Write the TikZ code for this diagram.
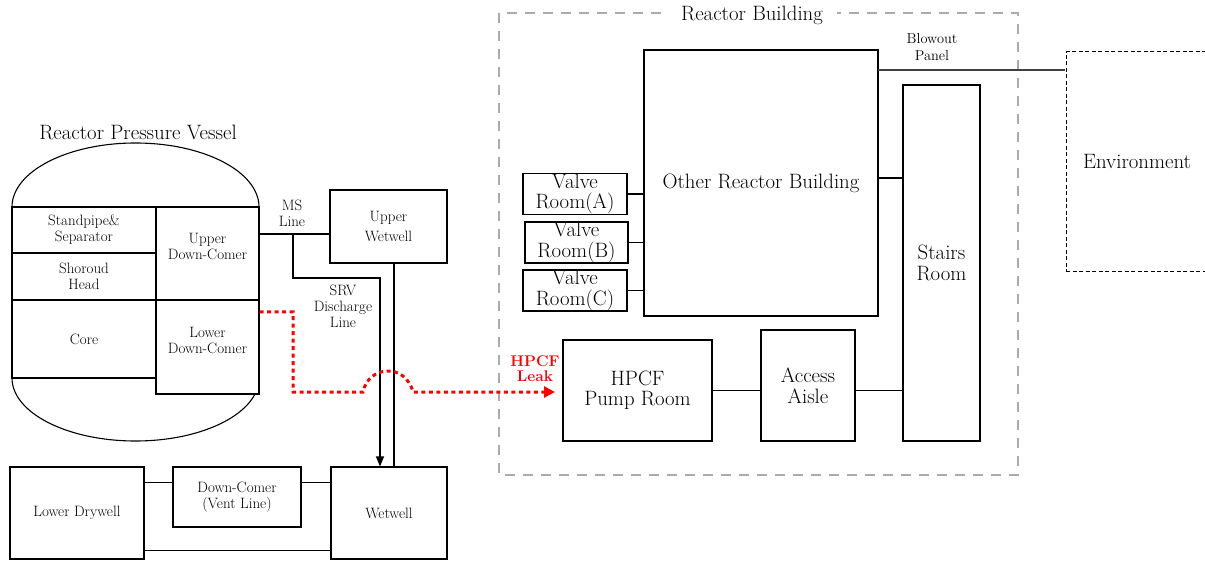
\documentclass[tikz,border=0pt]{standalone}
\usetikzlibrary{arrows.meta}
\newcommand\fbig{\fontsize{20.8}{20.5}\selectfont}
\newcommand\fsmall{\fontsize{15}{16}\selectfont}
\newcommand\fleak{\fontsize{15.5}{15}\selectfont\bfseries}
\tikzset{
  box/.style={draw, line width=1.1pt, fill=white, inner sep=0pt, align=center},
  bigbox/.style={box, font=\fbig},
  smallbox/.style={box, font=\fsmall},
  conn/.style={line width=1.1pt},
  lbl/.style={inner sep=0pt, align=center},
  rbline/.style={draw=black!33, line width=2.5pt, dash pattern=on 10pt off 8pt},
  envline/.style={draw, line width=1pt, dash pattern=on 4pt off 2.5pt},
  leak/.style={draw=red, line width=3pt, dash pattern=on 4pt off 3.5pt},
}
\begin{document}
\begin{tikzpicture}[x=1pt,y=-1pt]
\useasboundingbox (0,0) rectangle (1205,561);

% ---------- Reactor pressure vessel ----------
\begin{scope}
  \clip (0,0) rectangle (300,207);
  \draw[line width=1.1pt] (135.5,207) ellipse [x radius=123.5pt, y radius=64pt];
\end{scope}
\begin{scope}
  \clip (0,378) rectangle (300,470);
  \draw[line width=1.1pt] (135.5,378) ellipse [x radius=123.5pt, y radius=63pt];
\end{scope}
\node[lbl, font=\fbig] (rpv) at (138,132) {Reactor Pressure Vessel};

\node[smallbox, minimum width=144pt, minimum height=46pt] (sep) at (84,230) {Standpipe\&\\Separator};
\node[smallbox, minimum width=144pt, minimum height=47pt] (shr) at (84,276.5) {Shoroud\\Head};
\node[smallbox, minimum width=144pt, minimum height=78pt] (core) at (84,339) {Core};
\node[smallbox, minimum width=103pt, minimum height=93pt,
      label={[lbl, font=\fsmall, yshift=7.5pt]center:Upper\\Down-Comer}] (udc) at (207.5,253.5) {};
\node[smallbox, minimum width=103pt, minimum height=94pt,
      label={[lbl, font=\fsmall, yshift=7pt]center:Lower\\Down-Comer}] (ldc) at (207.5,347) {};

% ---------- Containment ----------
\node[smallbox, minimum width=117pt, minimum height=73pt] (uww) at (388.5,226.5) {Upper\\[4pt]Wetwell};
\node[smallbox, minimum width=116pt, minimum height=92pt] (ww) at (389,513) {Wetwell};
\node[smallbox, minimum width=134pt, minimum height=92pt] (ldw) at (77,513) {Lower Drywell};
\node[smallbox, minimum width=128pt, minimum height=60pt] (dc) at (237,497) {Down-Comer\\(Vent Line)};

\node[lbl, font=\fsmall] (msl) at (292,213) {MS\\Line};
\node[lbl, font=\fsmall] (srvl) at (343,306) {SRV\\Discharge\\Line};

\coordinate (msj) at (293,234);
\coordinate (srvc) at (380,278);
\draw[conn] (udc.east |- msj) -- (uww.west |- msj);
\draw[conn, -{Triangle[length=10pt,width=8pt]}] (msj) |- (srvc) -- (srvc |- ww.north);
\draw[conn] ([xshift=5.5pt]uww.south) -- ([xshift=5.5pt]uww.south |- ww.north);
\draw[conn] ([yshift=-16pt]dc.north west) -- ([yshift=-16pt]dc.north west -| ldw.east);
\draw[conn] ([yshift=-16pt]dc.north east) -- ([yshift=-16pt]dc.north east -| ww.west);
\draw[conn] ([yshift=9pt]ldw.south east) -- ([yshift=9pt]ldw.south east -| ww.west);

% ---------- Reactor building ----------
\draw[rbline] (499,13) rectangle (1018,475);
\node[lbl, fill=white, inner xsep=14pt, inner ysep=2pt, font=\fbig] (rbt) at (752,15) {Reactor Building};

\node[bigbox, line width=1.7pt, minimum width=234pt, minimum height=266pt] (orb) at (761,183) {Other Reactor Building};
\node[bigbox, minimum width=104pt, minimum height=40pt] (va) at (575,194) {Valve\\Room(A)};
\node[bigbox, minimum width=103pt, minimum height=41pt] (vb) at (576.5,242.5) {Valve\\Room(B)};
\node[bigbox, minimum width=104pt, minimum height=41pt] (vc) at (575,290.5) {Valve\\Room(C)};
\node[bigbox, minimum width=149pt, minimum height=101pt] (pump) at (637.5,390.5) {HPCF\\Pump Room};
\node[bigbox, minimum width=94pt, minimum height=111pt] (aisle) at (808,385.5) {Access\\Aisle};
\node[bigbox, minimum width=77pt, minimum height=356pt] (stairs) at (941.5,263) {Stairs\\Room};

\draw[conn] (va.east) -- (va.east -| orb.west);
\draw[conn] (vb.east) -- (vb.east -| orb.west);
\draw[conn] (vc.east) -- (vc.east -| orb.west);
\draw[conn] ([yshift=5pt]orb.east) -- ([yshift=5pt]orb.east -| stairs.west);
\draw[conn] (pump.east) -- (pump.east -| aisle.west);
\draw[conn] (aisle.east |- pump.east) -- (stairs.west |- pump.east);

% ---------- Environment ----------
\node[envline, font=\fbig, minimum width=142pt, minimum height=220pt, inner sep=0pt] (env) at (1137,162) {Environment};
\draw[line width=1.8pt, draw=black!75] ([shift={(-1pt,-21pt)}]orb.north east) -- ([shift={(-1pt,-21pt)}]orb.north east -| env.west);
\node[lbl, font=\fontsize{14.4}{17}\selectfont] (bp) at (932,47) {Blowout\\Panel};

% ---------- HPCF leak path ----------
\coordinate (lk1) at (293,392);
\coordinate (lk2) at (363,392);
\coordinate (lk3) at (413,392);
\coordinate (lkend) at (555,392);
\draw[leak, -{Triangle[length=11pt,width=11pt]}]
  ([yshift=35pt]ldc.east) -| (lk1) -- (lk2)
  .. controls (368,366) and (405,362) .. (lk3) -- (lkend);
\node[lbl, text=red, font=\fleak] (leakl) at (535,369) {HPCF\\Leak};
\end{tikzpicture}
\end{document}
